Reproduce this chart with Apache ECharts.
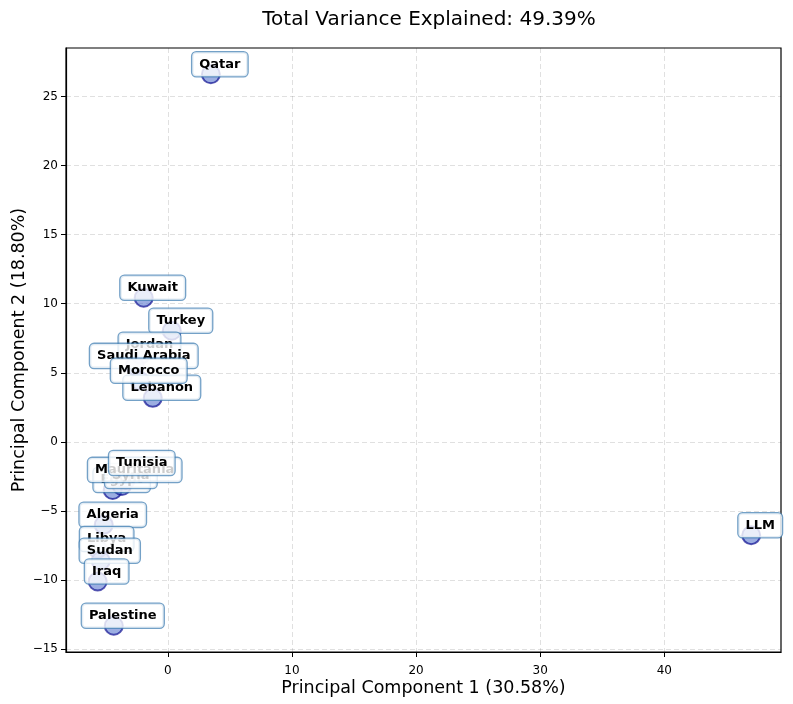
<!DOCTYPE html>
<html>
<head>
<meta charset="utf-8">
<script src="https://cdn.jsdelivr.net/npm/echarts@6/dist/echarts.min.js"></script>
<style>html,body{margin:0;padding:0;background:#fff}#c{width:793px;height:704px}</style>
</head>
<body>
<div id="c"></div>
<script>
// Countries (drawing order: later ones are drawn on top)
const names = ['Qatar','Kuwait','Turkey','Jordan','Saudi Arabia','Lebanon','Morocco','Egypt','Syria','Mauritania','Tunisia','Algeria','Libya','Sudan','Iraq','Palestine','LLM'];
const pc1 = [3.47,-1.94,0.32,-2.2,-2.66,-1.21,-2.26,-4.44,-3.7,-3.39,-2.82,-5.16,-5.65,-5.4,-5.65,-4.35,47.0];
const pc2 = [26.6,10.43,8.04,6.3,5.5,3.19,4.42,-3.48,-3.19,-2.75,-2.25,-6.0,-7.75,-8.6,-10.1,-13.3,-6.75];
const xTicks = [0,10,20,30,40];
const yTicks = [-15,-10,-5,0,5,10,15,20,25];
const titleText = 'Total Variance Explained: 49.39%';
const xName = 'Principal Component 1 (30.58%)';
const yName = 'Principal Component 2 (18.80%)';

const data = names.map((n,i)=>({name:n, value:[pc1[i], pc2[i]]}));
const font = 'DejaVu Sans';
const fmt = v => String(v).replace('-', '\u2212');
const SYM = 18;
const chart = echarts.init(document.getElementById('c'));
chart.setOption({
  animation:false,
  title:{text:titleText,left:424,top:5,textAlign:'center',
    textStyle:{fontFamily:font,fontSize:20,fontWeight:'normal',color:'#000'}},
  grid:{left:66,right:12,top:48,bottom:52,show:true,borderColor:'#000',borderWidth:1.2,
    backgroundColor:'transparent',outerBoundsMode:'none',containLabel:false},
  xAxis:{type:'value',min:-8.2,max:49.4,
    name:xName,nameLocation:'middle',nameGap:27,nameMoveOverlap:false,
    nameTextStyle:{fontFamily:font,fontSize:17.5,color:'#000'},
    axisLine:{show:true,onZero:false,lineStyle:{color:'#000',width:1.2}},
    axisTick:{show:true,length:5,lineStyle:{color:'#000'},customValues:xTicks},
    axisLabel:{fontFamily:font,fontSize:12,color:'#000',margin:9,padding:[4,0,0,0],customValues:xTicks,formatter:fmt},
    splitLine:{show:true,lineStyle:{color:'rgba(0,0,0,0.12)',type:[5,3],width:1}}},
  yAxis:{type:'value',min:-15.2,max:28.5,
    name:yName,nameLocation:'middle',nameGap:38,nameRotate:90,nameMoveOverlap:false,
    nameTextStyle:{fontFamily:font,fontSize:17.5,color:'#000'},
    axisLine:{show:true,onZero:false,lineStyle:{color:'#000',width:1.2}},
    axisTick:{show:true,length:5,lineStyle:{color:'#000'},customValues:yTicks},
    axisLabel:{fontFamily:font,fontSize:12,color:'#000',margin:8,customValues:yTicks,formatter:fmt},
    splitLine:{show:true,lineStyle:{color:'rgba(0,0,0,0.12)',type:[5,3],width:1}}},
  series:[{
    type:'scatter',data:data,symbol:'circle',symbolSize:SYM,
    itemStyle:{color:'rgba(85,115,205,0.58)',borderColor:'rgba(0,0,139,0.65)',borderWidth:2,opacity:1},
    label:{show:true,formatter:p=>p.name,position:[SYM/2+10,SYM/2-9],align:'center',verticalAlign:'middle',
      fontFamily:font,fontSize:13,fontWeight:'bold',color:'#000',
      backgroundColor:'rgba(255,255,255,0.8)',borderColor:'rgba(70,130,180,0.75)',borderWidth:1.3,
      borderRadius:4,padding:[6,7,5,7]},
    labelLayout:{hideOverlap:false},
    emphasis:{disabled:true}
  }]
});
</script>
</body>
</html>
